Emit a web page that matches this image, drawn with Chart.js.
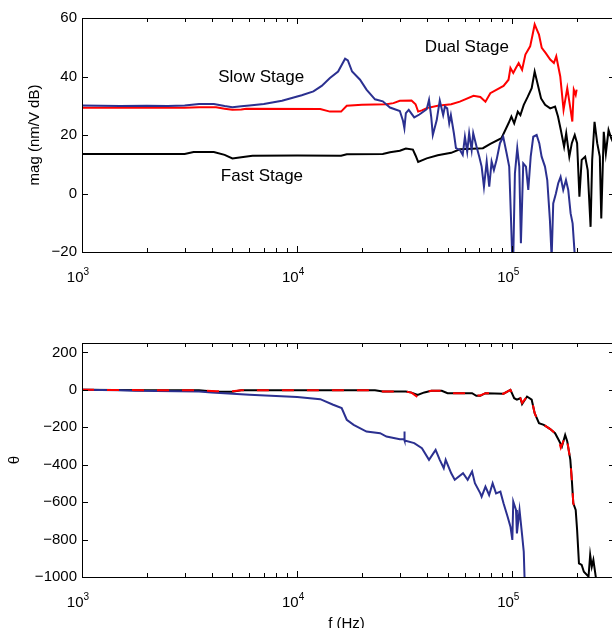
<!DOCTYPE html>
<html>
<head>
<meta charset="utf-8">
<script src="https://cdn.jsdelivr.net/npm/chart.js@4.4.1/dist/chart.umd.min.js"></script>
<style>
  html, body { margin: 0; padding: 0; background: #fff; overflow: hidden; }
  #wrap { position: relative; width: 612px; height: 628px; overflow: hidden; }
  .box { position: absolute; left: 0; width: 615px; }
  #magBox { top: 0; height: 300px; }
  #phaseBox { top: 300px; height: 328px; }
</style>
</head>
<body>
<div id="wrap">
  <div class="box" id="magBox"><canvas id="magChart"></canvas></div>
  <div class="box" id="phaseBox"><canvas id="phaseChart"></canvas></div>
</div>
<script>
// Bode plot: slow / fast / dual stage

const FONT = '"Liberation Sans", Arial, Helvetica, sans-serif';
const BLUE = '#2b3090';
const RED = '#ff0000';
const BLACK = '#000000';

// axis ticks
const freqDecades = [1e3, 1e4, 1e5];
const magTicks = [-20, 0, 20, 40, 60];
const phaseTicks = [-1000, -800, -600, -400, -200, 0, 200];

// magnitude (dB) vs frequency (Hz)
const slowMagFreq = [1000, 1500, 2000, 2500, 3000, 3500, 4100, 4600, 5000, 5500, 6000, 7000, 8500, 10500, 11900, 13000, 14200, 15500, 16700, 17200, 18000, 19600, 21000, 23000, 25000, 27000, 30000, 31000, 31500, 32000, 33000, 35000, 37000, 40000, 41000, 42000, 42700, 44500, 46000, 47700, 48600, 49800, 50900, 51800, 53500, 54700, 57100, 58800, 60200, 61700, 63000, 64700, 65800, 68200, 70200, 72000, 73800, 76000, 78100, 80100, 82100, 84500, 87600, 90700, 94100, 96700, 98500, 99900, 101000, 102800, 105400, 107700, 109600, 112400, 115700, 118600, 121700, 125100, 129700, 133400, 136800, 141800, 145300, 149500, 152300, 154900, 159400, 163400, 167600, 172400, 177500, 181900, 186600, 190600, 195400];
const slowMagDb = [30.1, 29.9, 30.0, 29.9, 30.1, 30.6, 30.6, 29.9, 29.5, 29.8, 30.1, 30.6, 31.7, 33.6, 34.9, 36.8, 39.5, 41.7, 46.1, 45.5, 41.7, 38.9, 35.5, 32.2, 31.5, 29.4, 28.2, 25.0, 22.3, 27.5, 28.6, 26.0, 27.0, 28.8, 32.0, 26.0, 20.0, 25.0, 31.8, 26.8, 29.7, 29.1, 24.0, 26.8, 20.6, 15.5, 14.9, 13.2, 19.4, 14.3, 20.6, 14.9, 20.6, 16.0, 12.6, 9.2, 2.3, 10.9, 2.3, 10.9, 8.0, 11.5, 17.2, 19.4, 13.7, 9.2, -7.9, -22, -22, 6.9, 15.5, 9.2, -17.0, 10.3, 9.2, 1.2, 12.6, 19.4, 20.0, 17.2, 12.6, 9.2, 4.6, -9.1, -22, -3.4, 0.0, 3.5, 5.7, 1.2, 4.6, 1.2, -6.8, -10.2, -22];

const fastMagFreq = [1000, 3000, 3300, 4100, 4600, 5000, 5500, 6200, 10000, 16000, 17000, 25000, 27000, 30000, 32000, 34500, 35500, 36500, 40000, 45000, 52000, 57000, 65000, 73000, 79000, 89000, 96000, 99000, 102000, 106000, 109000, 113000, 118000, 123000, 127000, 133000, 136000, 142000, 150000, 158000, 163000, 168000, 174000, 178000, 184000, 189000, 195000, 200000, 205000, 210000, 218000, 224000, 231000, 235000, 241000, 248000, 255000, 259000, 266000, 272000, 280000, 288000, 300000];
const fastMagDb = [13.5, 13.5, 14.2, 14.2, 13.2, 12.0, 12.4, 12.9, 13.0, 12.9, 13.4, 13.5, 14.1, 14.6, 15.4, 15.0, 13.0, 10.8, 12.0, 13.1, 13.9, 15.1, 15.3, 15.5, 17.0, 18.9, 24.0, 26.3, 24.0, 28.0, 26.8, 30.3, 33.1, 36.0, 41.7, 35.5, 32.5, 30.3, 29.1, 29.7, 26.3, 21.7, 16.0, 20.6, 12.6, 17.2, 20.0, 17.2, -1.1, 11.5, 12.6, 8.0, -11.4, 11.5, 24.5, 17.2, 12.6, -8.5, 21.1, 13.7, 21.7, 18.9, 16.0];

const dualMagFreq = [1000, 3000, 3500, 4200, 4600, 5000, 5500, 5800, 12800, 14200, 16000, 17000, 20000, 26000, 28000, 30000, 34000, 35500, 36500, 38000, 40000, 45000, 52000, 57000, 66000, 71000, 75000, 79000, 91000, 96000, 98000, 101000, 104000, 107000, 111000, 115000, 121000, 124000, 127000, 130000, 133000, 137000, 143000, 150000, 156000, 160000, 167000, 173000, 180000, 186000, 190000, 193000, 197000, 199000];
const dualMagDb = [29.3, 29.3, 29.5, 29.5, 29.0, 28.6, 28.7, 29.0, 28.9, 28.0, 28.0, 30.0, 30.3, 30.5, 30.9, 31.7, 31.8, 30.5, 28.0, 28.4, 29.2, 30.0, 30.5, 31.4, 33.4, 33.0, 31.4, 34.3, 36.8, 38.9, 42.9, 41.2, 43.0, 44.6, 42.3, 47.5, 50.3, 54.0, 57.8, 56.0, 54.3, 49.8, 48.0, 45.8, 44.6, 46.9, 40.0, 28.6, 36.0, 29.2, 24.6, 35.5, 33.7, 35.5];

// phase (deg) vs frequency (Hz)
const slowPhFreq = [1000, 1500, 1760, 3500, 4000, 6000, 10000, 12800, 14700, 16100, 17000, 18300, 21000, 24300, 26000, 30000, 31400, 31500, 31600, 35000, 38000, 41000, 44000, 46000, 48000, 49000, 52000, 54000, 59000, 62000, 65000, 67000, 71000, 72000, 75000, 78000, 81000, 84000, 88000, 91000, 95000, 98000, 100000, 101000, 104000, 105000, 108000, 111000, 113000, 114000];
const slowPhDeg = [0, -2, -5, -9, -14, -27, -39, -50, -80, -98, -160, -187, -223, -232, -250, -264, -264, -223, -271, -285, -312, -374, -321, -374, -419, -374, -446, -481, -446, -481, -437, -499, -553, -571, -517, -562, -499, -553, -544, -606, -677, -731, -802, -597, -642, -767, -642, -775, -865, -1010];

const fastPhFreq = [1000, 2000, 3500, 4200, 5000, 5500, 10000, 23000, 25000, 32000, 34000, 36300, 39000, 42000, 47000, 50000, 65000, 68000, 71000, 75000, 91000, 98000, 102000, 105000, 109000, 111000, 117000, 123000, 127000, 133000, 140000, 150000, 158000, 164000, 170000, 176000, 180000, 186000, 189000, 192000, 197000, 200000, 204000, 210000, 215000, 226000, 230000, 234000, 238000, 245000];
const fastPhDeg = [0, -2, -3, -10, -10, -3, -2, -2, -9, -9, -15, -28, -14, -5, -5, -18, -18, -32, -32, -18, -21, 0, -45, -53, -45, -77, -36, -53, -125, -178, -187, -210, -232, -267, -303, -241, -276, -374, -481, -606, -642, -749, -927, -936, -972, -998, -882, -945, -909, -1010];

const dualPhFreq = [1000, 2000, 3500, 4200, 5000, 5500, 10000, 23000, 25000, 32000, 34000, 36300, 39000, 42000, 47000, 50000, 65000, 68000, 71000, 75000, 91000, 98000, 102000, 105000, 109000, 111000, 117000, 123000, 127000, 133000, 140000, 150000, 158000, 164000, 168000, 172000, 176000, 180000, 186000, 189000, 192000, 197000];
const dualPhDeg = [0, -2, -3, -8, -8, -3, -2, -2, -9, -9, -15, -39, -14, -5, -5, -18, -18, -30, -30, -18, -21, 0, -45, -53, -45, -70, -36, -53, -125, -178, -187, -210, -232, -267, -310, -280, -245, -276, -374, -481, -606, -642];

// text labels on the magnitude plot, anchored in data coordinates
const magNotes = [
  { text: 'Slow Stage', f: 6800, db: 39.7 },
  { text: 'Dual Stage', f: 61500, db: 50.1 },
  { text: 'Fast Stage', f: 6860, db: 6.0 },
];

const pair = (xs, ys) => xs.map((x, i) => ({ x, y: ys[i] }));

// MATLAB-like box: border, inward ticks, 10^n labels, axis titles
const matlabAxes = {
  id: 'matlabAxes',
  afterDraw(chart, args, opts) {
    const { ctx, chartArea: a } = chart;
    const xs = chart.scales.x;
    const ys = chart.scales.y;
    ctx.save();
    ctx.strokeStyle = '#000';
    ctx.lineWidth = 1;
    ctx.strokeRect(a.left + 0.5, a.top + 0.5, a.right - a.left - 1, a.bottom - a.top);

    const major = 6;
    const minor = 4;
    ctx.beginPath();
    freqDecades.forEach((d) => {
      for (let m = 1; m <= 9; m++) {
        const v = d * m;
        if (v > xs.max) break;
        const px = Math.round(xs.getPixelForValue(v)) + 0.5;
        const len = m === 1 ? major : minor;
        ctx.moveTo(px, a.bottom);
        ctx.lineTo(px, a.bottom - len);
        ctx.moveTo(px, a.top);
        ctx.lineTo(px, a.top + len);
      }
    });
    opts.yTicks.forEach((v) => {
      const py = Math.round(ys.getPixelForValue(v)) + 0.5;
      ctx.moveTo(a.left, py);
      ctx.lineTo(a.left + major, py);
      ctx.moveTo(a.right, py);
      ctx.lineTo(a.right - major, py);
    });
    ctx.stroke();

    // x tick labels as 10 with superscript exponent
    ctx.fillStyle = '#000';
    freqDecades.forEach((d) => {
      const px = xs.getPixelForValue(d);
      const exp = String(Math.round(Math.log10(d)));
      ctx.font = '15px ' + FONT;
      ctx.textAlign = 'right';
      ctx.textBaseline = 'alphabetic';
      ctx.fillText('10', px + 1.5, a.bottom + 30);
      ctx.font = '10px ' + FONT;
      ctx.textAlign = 'left';
      ctx.fillText(exp, px + 1.5, a.bottom + 23);
    });

    // y title (rotated)
    ctx.save();
    ctx.translate(opts.yTitleX, (a.top + a.bottom) / 2);
    ctx.rotate(-Math.PI / 2);
    ctx.font = '15px ' + FONT;
    ctx.textAlign = 'center';
    ctx.textBaseline = 'middle';
    ctx.fillText(opts.yTitle, 0, 0);
    ctx.restore();

    if (opts.xTitle) {
      ctx.font = '15px ' + FONT;
      ctx.textAlign = 'center';
      ctx.textBaseline = 'alphabetic';
      ctx.fillText(opts.xTitle, (a.left + 611) / 2, a.bottom + 51);
    }

    (opts.notes || []).forEach((n) => {
      ctx.font = '17px ' + FONT;
      ctx.textAlign = 'center';
      ctx.textBaseline = 'middle';
      ctx.fillText(n.text, xs.getPixelForValue(n.f), ys.getPixelForValue(n.db));
    });
    ctx.restore();
  },
};

const lineSet = (data, color, extra) => Object.assign({
  data,
  borderColor: color,
  backgroundColor: color,
  borderWidth: 2,
  pointRadius: 0,
  tension: 0,
  fill: false,
}, extra || {});

const makeOptions = (cfg) => ({
  responsive: true,
  maintainAspectRatio: false,
  animation: false,
  events: [],
  layout: { padding: { top: cfg.top, right: 0, bottom: 0, left: 0 } },
  plugins: {
    legend: { display: false },
    tooltip: { enabled: false },
    matlabAxes: cfg.axes,
  },
  scales: {
    x: {
      type: 'logarithmic',
      min: 1000,
      max: 300000,
      grid: { display: false, drawTicks: false },
      border: { display: false },
      ticks: { display: false },
      afterFit: (s) => { s.height = cfg.xHeight; },
    },
    y: {
      type: 'linear',
      min: cfg.yMin,
      max: cfg.yMax,
      grid: { display: false, drawTicks: false },
      border: { display: false },
      ticks: {
        color: '#000',
        padding: 5,
        font: { family: FONT, size: 15 },
        callback: (v) => (v < 0 ? '\u2212' + Math.abs(v) : String(v)),
      },
      afterBuildTicks: (s) => { s.ticks = cfg.yTicks.map((v) => ({ value: v })); },
      afterFit: (s) => { s.width = 82; },
    },
  },
});

// lower order is drawn on top
new Chart(document.getElementById('magChart'), {
  type: 'line',
  data: {
    datasets: [
      lineSet(pair(slowMagFreq, slowMagDb), BLUE, { order: 0 }),
      lineSet(pair(dualMagFreq, dualMagDb), RED, { order: 1 }),
      lineSet(pair(fastMagFreq, fastMagDb), BLACK, { order: 2 }),
    ],
  },
  options: makeOptions({
    top: 18,
    xHeight: 48,
    yMin: -20,
    yMax: 60,
    yTicks: magTicks,
    axes: { yTicks: magTicks, yTitle: 'mag (nm/V dB)', yTitleX: 35, notes: magNotes },
  }),
  plugins: [matlabAxes],
});

new Chart(document.getElementById('phaseChart'), {
  type: 'line',
  data: {
    datasets: [
      lineSet(pair(dualPhFreq, dualPhDeg), RED, { borderDash: [12, 13], order: 0 }),
      lineSet(pair(slowPhFreq, slowPhDeg), BLUE, { order: 1 }),
      lineSet(pair(fastPhFreq, fastPhDeg), BLACK, { order: 2 }),
    ],
  },
  options: makeOptions({
    top: 43,
    xHeight: 51,
    yMin: -1000,
    yMax: 250,
    yTicks: phaseTicks,
    axes: { yTicks: phaseTicks, yTitle: '\u03b8', yTitleX: 15, xTitle: 'f (Hz)' },
  }),
  plugins: [matlabAxes],
});
</script>
</body>
</html>
